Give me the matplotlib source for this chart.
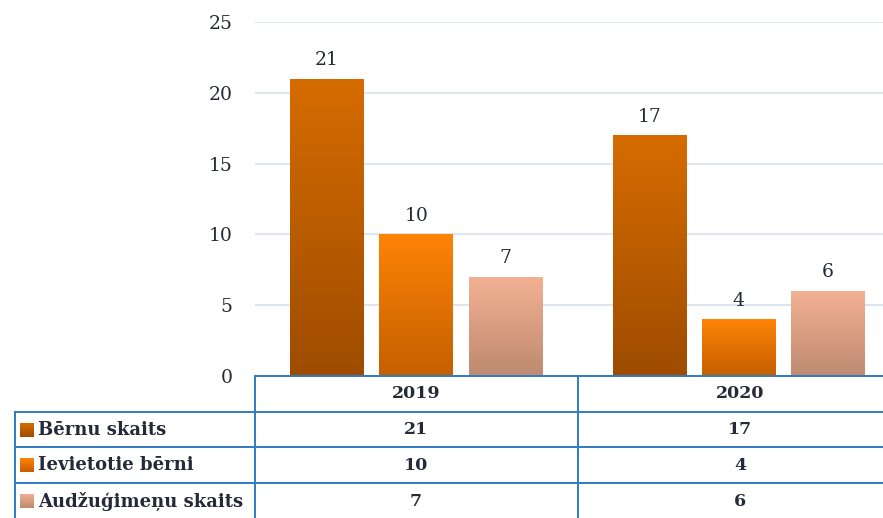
import matplotlib
matplotlib.use("Agg")
import matplotlib.pyplot as plt
import numpy as np
from matplotlib.colors import LinearSegmentedColormap
from matplotlib.lines import Line2D

years = ["2019", "2020"]
series_names = ["Bērnu skaits", "Ievietotie bērni", "Audžuģimeņu skaits"]
bernu_skaits = [21, 17]
ievietotie = [10, 4]
audzugimenu = [7, 6]
series_values = [bernu_skaits, ievietotie, audzugimenu]
yticks = [0, 5, 10, 15, 20, 25]

top_colors = ["#D66C00", "#FF8306", "#F3B193"]
bottom_colors = ["#9E4C00", "#C45F00", "#BE8A70"]

W, H = 883, 518
plt.rcParams["font.family"] = ["DejaVu Serif", "Liberation Serif"]
fig = plt.figure(figsize=(W / 100, H / 100), dpi=100)
fig.patch.set_facecolor("white")

def fx(px):
    return px / W

def fy(py):
    return 1 - py / H

txt = "#262A36"
ax = fig.add_axes([fx(255), fy(376), 645 / W, 354 / H])
ax.set_xlim(-0.5, 1.5)
ax.set_ylim(0, 25)
ax.set_yticks(yticks)
ax.set_yticklabels([str(t) for t in yticks], fontsize=13.5, color=txt)
ax.tick_params(axis="y", length=0, pad=16)
ax.tick_params(axis="x", length=0, labelbottom=False)
for s in ax.spines.values():
    s.set_visible(False)
ax.yaxis.grid(True, color="#DDE6EF", linewidth=1.5)
ax.set_axisbelow(True)

offsets = [-0.277, 0.0, 0.277]
width = 0.228
grad = np.linspace(0, 1, 256).reshape(-1, 1)
cmaps = [LinearSegmentedColormap.from_list("g%d" % i, [bottom_colors[i], top_colors[i]])
         for i in range(3)]
for i, vals in enumerate(series_values):
    x = np.arange(len(years)) + offsets[i]
    bars = ax.bar(x, vals, width=width, color="none", edgecolor="none", zorder=2)
    for b, v in zip(bars, vals):
        x0 = b.get_x()
        im = ax.imshow(grad, extent=[x0, x0 + width, 0, v], origin="lower",
                       aspect="auto", cmap=cmaps[i], zorder=2)
        im.set_clip_path(b)
        ax.annotate(str(v), (x0 + width / 2, v), xytext=(0, 7), textcoords="offset points",
                    ha="center", va="bottom", fontsize=13.5, color=txt)
ax.set_xlim(-0.5, 1.5)
ax.set_ylim(0, 25)

# Table
lc = "#2F7BC2"
lw = 1.4
def hline(x0, x1, y):
    fig.add_artist(Line2D([fx(x0), fx(x1)], [fy(y), fy(y)], color=lc, lw=lw))
def vline(x, y0, y1):
    fig.add_artist(Line2D([fx(x), fx(x)], [fy(y0), fy(y1)], color=lc, lw=lw))

hline(255, 883, 376)
hline(15, 883, 412)
hline(15, 883, 447)
hline(15, 883, 483)
vline(15, 412, 518)
vline(255, 376, 518)
vline(578, 376, 518)

col_centers = [416, 740]
row_centers = [430, 465, 501]
for j, yr in enumerate(years):
    fig.text(fx(col_centers[j]), fy(394), yr, ha="center", va="center",
             fontsize=12.5, fontweight="bold", color=txt)
for i, name in enumerate(series_names):
    yc = row_centers[i]
    sax = fig.add_axes([fx(20), fy(yc + 7), 14 / W, 14 / H])
    sax.imshow(grad, origin="lower", aspect="auto", cmap=cmaps[i], extent=[0, 1, 0, 1])
    sax.axis("off")
    fig.text(fx(38), fy(yc), name, ha="left", va="center",
             fontsize=13, fontweight="bold", color=txt)
    for j in range(len(years)):
        fig.text(fx(col_centers[j]), fy(yc), str(series_values[i][j]), ha="center", va="center",
                 fontsize=12.5, fontweight="bold", color=txt)

fig.savefig("out.png", dpi=100, facecolor="white")
